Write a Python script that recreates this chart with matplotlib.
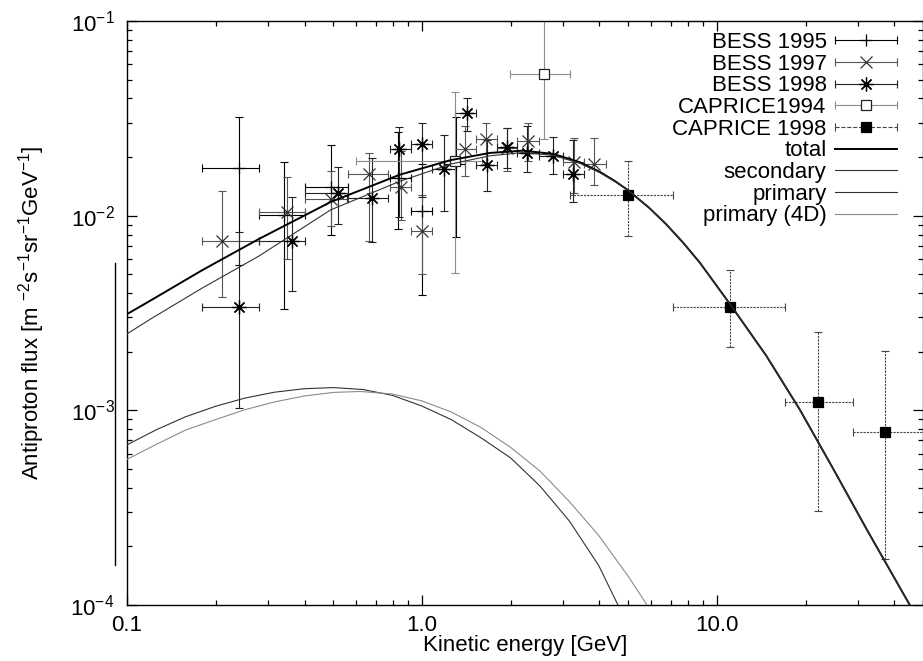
import numpy as np
import matplotlib
matplotlib.use("Agg")
import matplotlib.pyplot as plt
from matplotlib.lines import Line2D
from matplotlib.legend_handler import HandlerBase
from matplotlib.ticker import LogLocator, NullFormatter

plt.rcParams['font.family'] = ['Liberation Sans', 'DejaVu Sans']
plt.rcParams['mathtext.fontset'] = 'custom'
plt.rcParams['mathtext.rm'] = 'Liberation Sans'
plt.rcParams['mathtext.it'] = 'Liberation Sans:italic'
plt.rcParams['mathtext.bf'] = 'Liberation Sans:bold'

# ---- data: energy [GeV], flux, bin edges, flux error range
bess95_e = [0.24, 0.34, 0.49, 0.83, 1.00, 1.30]
bess95_f = [0.0175, 0.0101, 0.0140, 0.0157, 0.0106, 0.0185]
bess95_elo = [0.18, 0.28, 0.40, 0.78, 0.92, 1.19]
bess95_ehi = [0.28, 0.40, 0.56, 0.92, 1.08, 1.40]
bess95_flo = [0.0056, 0.0033, 0.0080, 0.0085, 0.0039, 0.0078]
bess95_fhi = [0.032, 0.0188, 0.0231, 0.0268, 0.0185, 0.0323]

bess97_e = [0.21, 0.35, 0.49, 0.66, 0.85, 1.00, 1.40, 1.65, 1.95, 2.29, 3.27, 3.83]
bess97_f = [0.0074, 0.0105, 0.0122, 0.0164, 0.0141, 0.0083, 0.0219, 0.0247, 0.0222, 0.0242, 0.0189, 0.0184]
bess97_elo = [0.18, 0.28, 0.40, 0.56, 0.78, 0.92, 1.29, 1.52, 1.80, 2.10, 3.00, 3.55]
bess97_ehi = [0.28, 0.40, 0.56, 0.77, 0.92, 1.08, 1.52, 1.80, 2.10, 2.50, 3.55, 4.20]
bess97_flo = [0.0038, 0.0060, 0.0088, 0.0074, 0.0095, 0.0050, 0.0160, 0.0185, 0.0170, 0.0190, 0.0130, 0.0143]
bess97_fhi = [0.0134, 0.0158, 0.0170, 0.0209, 0.0215, 0.0127, 0.0290, 0.0300, 0.0283, 0.0300, 0.0250, 0.0250]

bess98_e = [0.24, 0.362, 0.52, 0.678, 0.838, 1.00, 1.19, 1.42, 1.66, 1.94, 2.27, 2.79, 3.26]
bess98_f = [0.00341, 0.0074, 0.0130, 0.0123, 0.0219, 0.0233, 0.0173, 0.0336, 0.0182, 0.0226, 0.0209, 0.0203, 0.0164]
bess98_elo = [0.18, 0.28, 0.40, 0.557, 0.78, 0.92, 1.08, 1.29, 1.52, 1.80, 2.10, 2.50, 3.00]
bess98_ehi = [0.28, 0.40, 0.56, 0.77, 0.92, 1.08, 1.29, 1.52, 1.80, 2.10, 2.50, 3.00, 3.55]
bess98_flo = [0.00103, 0.00412, 0.0091, 0.0073, 0.0098, 0.0125, 0.0106, 0.0273, 0.0134, 0.0175, 0.0168, 0.0164, 0.0118]
bess98_fhi = [0.00824, 0.0124, 0.0178, 0.0197, 0.0287, 0.0300, 0.0259, 0.0404, 0.0245, 0.0281, 0.0289, 0.0253, 0.0245]

cap94_e = [1.29, 2.60]
cap94_f = [0.0192, 0.0534]
cap94_elo = [0.60, 1.99]
cap94_ehi = [1.60, 3.18]
cap94_flo = [0.00506, 0.0247]
cap94_fhi = [0.0433, 0.11]

cap98_e = [5.0, 11.1, 22.1, 37.3]
cap98_f = [0.0127, 0.00341, 0.00110, 0.00077]
cap98_elo = [3.18, 7.08, 17.0, 29.0]
cap98_ehi = [7.08, 17.0, 29.0, 52.0]
cap98_flo = [0.00787, 0.00212, 0.000304, 0.000172]
cap98_fhi = [0.0191, 0.00526, 0.00252, 0.00202]

# ---- model curves
total_e = [0.1, 0.12, 0.18, 0.28, 0.49, 0.84, 1.25, 1.70, 2.20, 2.79, 3.43, 4.01, 4.50, 4.97,
           5.90, 6.75, 7.70, 8.76, 11.07, 14.7, 19.1, 24.8, 32.2, 45.1]
total_f = [0.00312, 0.00366, 0.00525, 0.00759, 0.01175, 0.01622, 0.01928, 0.0210, 0.02158, 0.02075,
           0.01881, 0.01679, 0.0151, 0.0136, 0.01096, 0.0090, 0.00724, 0.00573, 0.00352, 0.00191,
           0.00101, 0.000501, 0.000245, 0.0001]

secondary_e = [0.1, 0.12, 0.18, 0.28, 0.49, 0.84, 1.25, 1.70, 2.20, 2.79, 3.43, 4.01, 4.50, 4.97,
               5.90, 6.75, 7.70, 8.76, 11.07, 14.7, 19.1, 24.8, 32.2, 45.1]
secondary_f = [0.00247, 0.00294, 0.00425, 0.0062, 0.0107, 0.0150, 0.0184, 0.0203, 0.0211, 0.0204,
               0.01858, 0.01663, 0.0150, 0.0136, 0.01096, 0.0090, 0.00724, 0.00573, 0.00352, 0.00191,
               0.00101, 0.000501, 0.000245, 0.0001]

primary_e = [0.1, 0.126, 0.158, 0.2, 0.251, 0.316, 0.398, 0.501, 0.631, 0.794, 1.0, 1.259,
             1.585, 1.995, 2.512, 3.162, 3.981, 4.62, 5.01]
primary_f = [0.000665, 0.000796, 0.000927, 0.00105, 0.001156, 0.001239, 0.001291, 0.001309,
             0.001279, 0.001194, 0.001052, 0.000895, 0.000723, 0.000571, 0.000409, 0.00027,
             0.000159, 0.0001, 0.000079]

primary4d_e = [0.1, 0.126, 0.158, 0.2, 0.251, 0.316, 0.398, 0.501, 0.617, 0.794, 1.0, 1.259,
               1.585, 1.995, 2.512, 3.162, 3.981, 5.012, 5.93, 6.31]
primary4d_f = [0.00056, 0.00067, 0.000792, 0.000897, 0.001007, 0.001104, 0.001184, 0.001236,
               0.00125, 0.001213, 0.001118, 0.00098, 0.000817, 0.000647, 0.000488, 0.00034,
               0.000227, 0.00014, 0.000095, 0.000081]

FS = 16


class GnuKey(HandlerBase):
    # gnuplot style key sample: line with end caps and the point in the middle
    def create_artists(self, legend, orig, xdescent, ydescent, width, height, fontsize, trans):
        y = height / 2 - ydescent
        x0, x1 = -xdescent, width - xdescent
        arts = [Line2D([x0, x1], [y, y], color=orig.get_color(), lw=orig.get_linewidth(),
                       ls=orig.get_linestyle(), transform=trans)]
        if orig.get_marker() not in ('None', None, ''):
            arts.append(Line2D([x0, x1], [y, y], ls='none', marker='|', ms=6,
                               mew=orig.get_linewidth(), color=orig.get_color(), transform=trans))
            arts.append(Line2D([(x0 + x1) / 2], [y], ls='none', marker=orig.get_marker(),
                               ms=orig.get_markersize(), mfc=orig.get_markerfacecolor(),
                               mec=orig.get_markeredgecolor(), mew=orig.get_markeredgewidth(),
                               transform=trans))
        return arts


def draw_points(ax, e, f, elo, ehi, flo, fhi, color, marker, ms, mfc, mec, ls='-'):
    e = np.array(e); f = np.array(f)
    xerr = [e - np.array(elo), np.array(ehi) - e]
    yerr = [f - np.array(flo), np.array(fhi) - f]
    eb = ax.errorbar(e, f, xerr=xerr, yerr=yerr, fmt='none', ecolor=color, elinewidth=0.8,
                     capsize=2.8, capthick=0.8, zorder=2)
    for c in eb[2]:
        c.set_linestyle(ls)
    ax.plot(e, f, ls='none', marker=marker, ms=ms, mfc=mfc, mec=mec, mew=0.9, zorder=3)
    return Line2D([], [], color=color, lw=0.8, ls=ls, marker=marker, ms=ms, mfc=mfc, mec=mec, mew=0.9)


fig = plt.figure(figsize=(9.23, 6.61), dpi=100)
ax = fig.add_axes([127 / 923, 56 / 661, 796 / 923, 584 / 661])

h1 = draw_points(ax, bess95_e, bess95_f, bess95_elo, bess95_ehi, bess95_flo, bess95_fhi,
                 'black', '+', 8, 'black', 'black')
h2 = draw_points(ax, bess97_e, bess97_f, bess97_elo, bess97_ehi, bess97_flo, bess97_fhi,
                 '#555555', 'x', 9, '#333333', '#333333')
h3 = draw_points(ax, bess98_e, bess98_f, bess98_elo, bess98_ehi, bess98_flo, bess98_fhi,
                 '#222222', (8, 2, 0), 10, 'black', 'black')
h4 = draw_points(ax, cap94_e, cap94_f, cap94_elo, cap94_ehi, cap94_flo, cap94_fhi,
                 '#8c8c8c', 's', 7, 'white', '#222222')
h5 = draw_points(ax, cap98_e, cap98_f, cap98_elo, cap98_ehi, cap98_flo, cap98_fhi,
                 '#444444', 's', 7.5, 'black', 'black', ls=(0, (2, 1)))

l1, = ax.plot(total_e, total_f, color='black', lw=1.4, zorder=4)
l2, = ax.plot(secondary_e, secondary_f, color='#333333', lw=0.8, zorder=4)
l3, = ax.plot(primary_e, primary_f, color='#333333', lw=0.8, zorder=4)
l4, = ax.plot(primary4d_e, primary4d_f, color='#8c8c8c', lw=0.8, zorder=4)

ax.set_xscale('log')
ax.set_yscale('log')
ax.set_xlim(0.1, 50)
ax.set_ylim(1e-4, 1e-1)

ax.set_xticks([0.1, 1, 10], labels=['0.1', '1.0', '10.0'])
ax.xaxis.set_minor_locator(LogLocator(base=10, subs=np.arange(2, 10)))
ax.xaxis.set_minor_formatter(NullFormatter())
ax.yaxis.set_minor_locator(LogLocator(base=10, subs=np.arange(2, 10)))
ax.yaxis.set_minor_formatter(NullFormatter())
ax.tick_params(which='both', direction='in', top=True, right=True, labelsize=FS, width=0.9)
ax.tick_params(which='major', length=7.2)
ax.tick_params(which='minor', length=3.6)
ax.tick_params(axis='x', which='major', pad=7)
ax.tick_params(axis='y', which='major', pad=9)
for s in ax.spines.values():
    s.set_linewidth(1.0)

ax.set_xlabel('Kinetic energy [GeV]', fontsize=FS)
ax.xaxis.set_label_coords(0.5, -0.052)
ax.set_ylabel(r'Antiproton flux [m $^{-2}$s$^{-1}$sr$^{-1}$GeV$^{-1}$]', fontsize=FS)
ax.yaxis.set_label_coords(-0.101, 0.5)

handles = [h1, h2, h3, h4, h5, l1, l2, l3, l4]
labels = ['BESS 1995', 'BESS 1997', 'BESS 1998', 'CAPRICE1994', 'CAPRICE 1998',
          'total', 'secondary', 'primary', 'primary (4D)']
ax.legend(handles, labels, handler_map={Line2D: GnuKey()}, loc='upper right',
          bbox_to_anchor=(0.967, 0.981), frameon=False, borderpad=0, borderaxespad=0,
          handlelength=2.8, handletextpad=0.36, markerfirst=False, labelspacing=0.03,
          fontsize=FS)

# stray vertical rule left of the axis, as in the original
fig.add_artist(Line2D([115 / 923, 115 / 923], [1 - 263 / 661, 1 - 565 / 661],
                      color='black', lw=1.0))

fig.savefig('out.png', dpi=100)
